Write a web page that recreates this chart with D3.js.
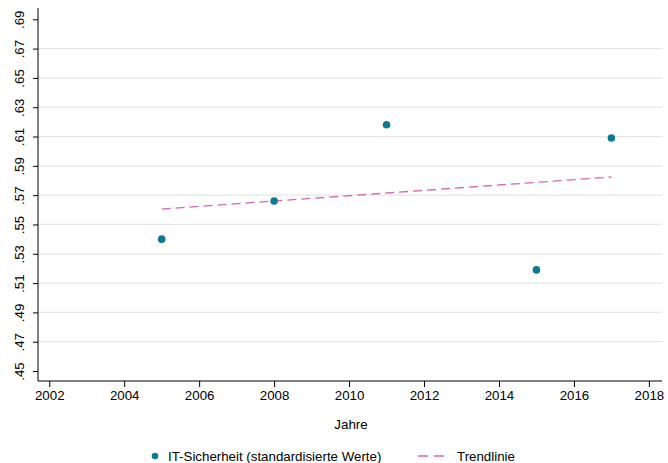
<!DOCTYPE html>
<html><head><meta charset="utf-8">
<script src="https://cdn.jsdelivr.net/npm/d3@7"></script>
<style>body{margin:0;background:#fff}svg{display:block}text{font-family:"Liberation Sans",Arial,sans-serif}</style>
</head><body><svg id="c" width="668" height="463"></svg>
<script>
const years = [2005, 2008, 2011, 2015, 2017];
const values = [0.540, 0.566, 0.618, 0.519, 0.609];
const trendYears = [2005, 2017];
const trendValues = [0.5605, 0.5824];
const xTicks = [2002, 2004, 2006, 2008, 2010, 2012, 2014, 2016, 2018];
const yTicks = [0.45, 0.47, 0.49, 0.51, 0.53, 0.55, 0.57, 0.59, 0.61, 0.63, 0.65, 0.67, 0.69];
const seriesLabel = "IT-Sicherheit (standardisierte Werte)";
const trendLabel = "Trendlinie";
const xTitle = "Jahre";

const svg = d3.select("#c");
const pL = 38, pR = 662, pT = 8, pB = 381;
const x = d3.scaleLinear().domain([2001.7, 2018.35]).range([pL, pR]);
const y = d3.scaleLinear().domain([0.4432, 0.6977]).range([pB, pT]);
const teal = "#0b7a93", pink = "#d467b0";
const fs = 13.3;

// gridlines (interior ticks)
svg.append("g").selectAll("line").data(yTicks.slice(1, -1)).join("line")
  .attr("x1", pL).attr("x2", pR)
  .attr("y1", d => y(d)).attr("y2", d => y(d))
  .attr("stroke", "#e6e6e6").attr("stroke-width", 1.2);

// y axis
const yAxis = svg.append("g").attr("transform", `translate(${pL},0)`)
  .call(d3.axisLeft(y).tickValues(yTicks).tickSize(5).tickPadding(5)
    .tickFormat(d => d3.format(".2f")(d).replace(/^0/, "")));
yAxis.select(".domain").attr("d", `M0,${pT}V${pB}`).attr("stroke", "#000");
yAxis.selectAll(".tick text").attr("font-size", fs).attr("fill", "#000")
  .attr("text-anchor", "middle").attr("x", 0).attr("y", 0).attr("dy", "0.35em")
  .attr("transform", "translate(-19,0) rotate(-90)");

// x axis
const xAxis = svg.append("g").attr("transform", `translate(0,${pB})`)
  .call(d3.axisBottom(x).tickValues(xTicks).tickSize(6).tickPadding(4).tickFormat(d3.format("d")));
xAxis.select(".domain").attr("d", `M${pL},0H${pR}`).attr("stroke", "#000");
xAxis.selectAll("text").attr("font-size", fs).attr("fill", "#000");
xAxis.selectAll(".tick line").attr("stroke", "#000");
yAxis.selectAll(".tick line").attr("stroke", "#000");

// x title
svg.append("text").attr("x", (pL + pR) / 2 + 1).attr("y", 429)
  .attr("text-anchor", "middle").attr("font-size", fs).text(xTitle);

// trend line
svg.append("path").datum(trendYears.map((t, i) => [t, trendValues[i]]))
  .attr("d", d3.line().x(d => x(d[0])).y(d => y(d[1])))
  .attr("stroke", pink).attr("stroke-width", 1.3).attr("fill", "none")
  .attr("stroke-dasharray", "9,5");

// points
svg.append("g").selectAll("circle").data(years.map((t, i) => [t, values[i]])).join("circle")
  .attr("cx", d => x(d[0])).attr("cy", d => y(d[1])).attr("r", 3.8).attr("fill", teal);

// legend
const ly = 456;
svg.append("circle").attr("cx", 155).attr("cy", ly).attr("r", 3.3).attr("fill", teal);
svg.append("text").attr("x", 168).attr("y", ly).attr("dy", "0.35em").attr("font-size", fs).text(seriesLabel);
svg.append("line").attr("x1", 418).attr("x2", 447).attr("y1", ly).attr("y2", ly)
  .attr("stroke", pink).attr("stroke-width", 1.3).attr("stroke-dasharray", "10,6");
svg.append("text").attr("x", 457).attr("y", ly).attr("dy", "0.35em").attr("font-size", fs).text(trendLabel);
</script></body></html>
